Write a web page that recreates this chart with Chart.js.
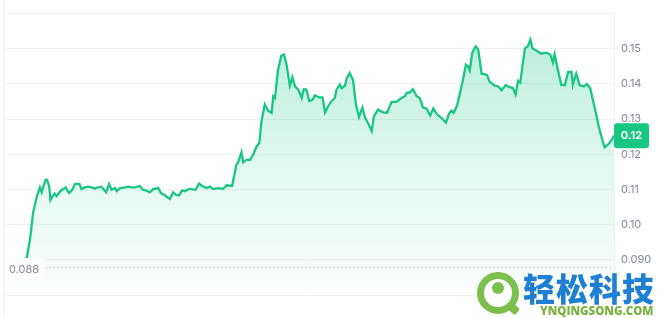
<!DOCTYPE html>
<html>
<head>
<meta charset="utf-8">
<script src="https://cdn.jsdelivr.net/npm/chart.js@4.4.0/dist/chart.umd.min.js"></script>
<style>
  html, body { margin: 0; padding: 0; background: #fff; }
  #wrap { position: relative; width: 660px; height: 318px; overflow: hidden; }
  #priceChart { position: absolute; left: 0; top: 0; }
  .logo { position: absolute; left: 477px; top: 272px; width: 42px; height: 42px; }
  .ring { position: absolute; left: 0; top: 0; width: 28px; height: 28px; border: 7px solid #7cbf4e; border-radius: 50%; background: #fff; }
  .dot { position: absolute; left: 15px; top: 10px; width: 12px; height: 12px; border-radius: 50%; background: #7cbf4e; }
  .tail { position: absolute; left: 29px; top: 32px; width: 13px; height: 8px; background: #7cbf4e; transform: rotate(40deg); border-radius: 2px; }
  .brand { position: absolute; left: 523px; top: 268px; font-family: "Noto Sans CJK SC", sans-serif; font-weight: 900; font-size: 32px; color: #1f7fd2; letter-spacing: 1px; line-height: 38px; }
  .site { position: absolute; left: 540px; top: 304px; font-family: "Open Sans", sans-serif; font-weight: 800; font-size: 11.5px; color: #7cb342; line-height: 14px; }
</style>
</head>
<body>
<div id="wrap">
  <canvas id="priceChart" width="660" height="318"></canvas>
  <div class="logo"><div class="ring"></div><div class="dot"></div><div class="tail"></div></div>
  <div class="brand">轻松科技</div>
  <div class="site">YNQINGSONG.COM</div>
</div>
<script>
// minutes since start of the 24h window
const minutes = [
  0, 28, 56, 64, 71, 79, 87, 91, 95, 101, 104, 109, 112, 117, 122, 126, 133, 138, 142, 148,
  151, 156, 162, 170, 180, 185, 193, 201, 209, 217, 224, 232, 243, 250, 256, 264, 268, 276, 287, 295,
  303, 311, 323, 330, 338, 346, 354, 366, 372, 382, 393, 401, 407, 415, 422, 429, 437, 445, 454, 462,
  469, 480, 488, 495, 507, 519, 527, 540, 550, 554, 562, 566, 574, 582, 590, 598, 604, 609, 617, 625,
  633, 637, 641, 648, 656, 662, 668, 676, 682, 688, 696, 704, 709, 715, 722, 730, 735, 745, 753, 759,
  766, 774, 782, 786, 794, 798, 806, 810, 817, 825, 832, 839, 847, 853, 861, 869, 874, 884, 896, 905,
  916, 927, 939, 947, 951, 959, 966, 975, 982, 990, 998, 1007, 1014, 1022, 1029, 1037, 1044, 1051, 1057, 1062,
  1070, 1077, 1084, 1091, 1096, 1100, 1106, 1114, 1120, 1128, 1135, 1141, 1147, 1159, 1167, 1175, 1185, 1190, 1202, 1208,
  1214, 1219, 1230, 1237, 1243, 1248, 1257, 1269, 1281, 1290, 1296, 1300, 1308, 1316, 1324, 1332, 1340, 1343, 1351, 1359,
  1369, 1376, 1384, 1392, 1398, 1405, 1413, 1418, 1428, 1436, 1440
];
const prices = [
  0.0880, 0.0885, 0.0906, 0.0961, 0.1035, 0.1076, 0.1106, 0.1092, 0.1108, 0.1128, 0.1127, 0.1108, 0.1070, 0.1081, 0.1088, 0.1081, 0.1092, 0.1099, 0.1101, 0.1106,
  0.1099, 0.1090, 0.1097, 0.1116, 0.1116, 0.1101, 0.1106, 0.1108, 0.1106, 0.1103, 0.1106, 0.1108, 0.1092, 0.1116, 0.1099, 0.1104, 0.1095, 0.1104, 0.1106, 0.1108,
  0.1106, 0.1106, 0.1110, 0.1099, 0.1097, 0.1092, 0.1101, 0.1104, 0.1090, 0.1083, 0.1073, 0.1092, 0.1085, 0.1083, 0.1097, 0.1095, 0.1101, 0.1101, 0.1099, 0.1117,
  0.1110, 0.1104, 0.1108, 0.1101, 0.1104, 0.1102, 0.1112, 0.1110, 0.1170, 0.1177, 0.1206, 0.1177, 0.1184, 0.1184, 0.1200, 0.1223, 0.1232, 0.1292, 0.1342, 0.1324,
  0.1318, 0.1365, 0.1360, 0.1439, 0.1480, 0.1484, 0.1457, 0.1395, 0.1420, 0.1393, 0.1384, 0.1360, 0.1385, 0.1384, 0.1351, 0.1356, 0.1367, 0.1362, 0.1362, 0.1319,
  0.1336, 0.1351, 0.1360, 0.1384, 0.1399, 0.1388, 0.1395, 0.1416, 0.1431, 0.1411, 0.1340, 0.1306, 0.1333, 0.1305, 0.1287, 0.1266, 0.1308, 0.1327, 0.1319, 0.1318,
  0.1349, 0.1349, 0.1360, 0.1365, 0.1374, 0.1376, 0.1385, 0.1365, 0.1360, 0.1333, 0.1330, 0.1310, 0.1330, 0.1315, 0.1308, 0.1299, 0.1290, 0.1315, 0.1324, 0.1318,
  0.1338, 0.1374, 0.1411, 0.1455, 0.1450, 0.1439, 0.1489, 0.1507, 0.1498, 0.1429, 0.1428, 0.1425, 0.1406, 0.1395, 0.1393, 0.1382, 0.1397, 0.1393, 0.1388, 0.1370,
  0.1409, 0.1404, 0.1501, 0.1507, 0.1526, 0.1501, 0.1495, 0.1486, 0.1489, 0.1483, 0.1461, 0.1484, 0.1439, 0.1397, 0.1397, 0.1434, 0.1434, 0.1398, 0.1429, 0.1397,
  0.1393, 0.1400, 0.1388, 0.1345, 0.1313, 0.1274, 0.1239, 0.1220, 0.1230, 0.1244, 0.1253
];

const tickValues = [0.09, 0.10, 0.11, 0.12, 0.13, 0.14, 0.15];
const tickLabels = ["0.090", "0.10", "0.11", "0.12", "0.13", "0.14", "0.15"];

const lowPrice = 0.088;
const lowLabel = "0.088";
const lastLabel = "0.12";

const green = "#16c784";
const gridColor = "#eff2f5";
const textColor = "#808a9d";

const points = minutes.map((m, i) => ({ x: m, y: prices[i] }));

// low marker, frame lines and the current price box
const overlay = {
  id: "overlay",
  afterDraw(chart) {
    const ctx = chart.ctx;
    const area = chart.chartArea;
    const y = chart.scales.y;
    ctx.save();

    ctx.strokeStyle = gridColor;
    ctx.lineWidth = 1;
    ctx.beginPath();
    ctx.moveTo(area.left + 0.5, 0);
    ctx.lineTo(area.left + 0.5, chart.height);
    ctx.stroke();

    const lowY = Math.round(y.getPixelForValue(lowPrice)) + 0.5;
    ctx.strokeStyle = "#a6b0c3";
    ctx.setLineDash([1, 3]);
    ctx.beginPath();
    ctx.moveTo(46, lowY);
    ctx.lineTo(area.right, lowY);
    ctx.stroke();
    ctx.setLineDash([]);

    ctx.fillStyle = "#fff";
    ctx.fillRect(area.left + 1, lowY - 9.5, 40, 20);
    ctx.font = "11px Inter";
    ctx.fillStyle = textColor;
    ctx.textBaseline = "middle";
    ctx.textAlign = "left";
    ctx.fillText(lowLabel, 9, lowY + 2);

    const lastY = y.getPixelForValue(prices[prices.length - 1]);
    ctx.fillStyle = green;
    ctx.beginPath();
    ctx.roundRect(area.right, lastY - 12.5, 35, 25, 3);
    ctx.fill();
    ctx.fillStyle = "#fff";
    ctx.font = "bold 11px Inter";
    ctx.textAlign = "center";
    ctx.fillText(lastLabel, area.right + 17.5, lastY + 0.5);

    ctx.restore();
  }
};

new Chart(document.getElementById("priceChart"), {
  type: "line",
  data: {
    datasets: [{
      data: points,
      borderColor: green,
      borderWidth: 2.3,
      pointRadius: 0,
      tension: 0,
      fill: "start",
      backgroundColor: (c) => {
        const area = c.chart.chartArea;
        if (!area) return "rgba(22,199,132,0.2)";
        const g = c.chart.ctx.createLinearGradient(0, area.top, 0, area.bottom);
        g.addColorStop(0, "rgba(22,199,132,0.32)");
        g.addColorStop(0.5, "rgba(22,199,132,0.14)");
        g.addColorStop(1, "rgba(22,199,132,0.01)");
        return g;
      }
    }]
  },
  options: {
    responsive: false,
    animation: false,
    layout: { padding: { left: 3, top: 4, bottom: 23, right: 0 } },
    plugins: { legend: { display: false }, tooltip: { enabled: false } },
    scales: {
      x: { type: "linear", min: 0, max: 1440, display: false },
      y: {
        position: "right",
        min: 0.08,
        max: 0.16,
        afterFit: (axis) => { axis.width = 46; },
        grid: { color: gridColor, drawTicks: false },
        border: { display: true, color: gridColor },
        ticks: {
          stepSize: 0.01,
          padding: 7,
          color: textColor,
          font: { family: "Inter", size: 11 },
          callback: (v) => {
            const i = tickValues.findIndex(t => Math.abs(t - v) < 1e-6);
            return i < 0 ? "" : tickLabels[i];
          }
        }
      }
    }
  },
  plugins: [overlay]
});
</script>
</body>
</html>
